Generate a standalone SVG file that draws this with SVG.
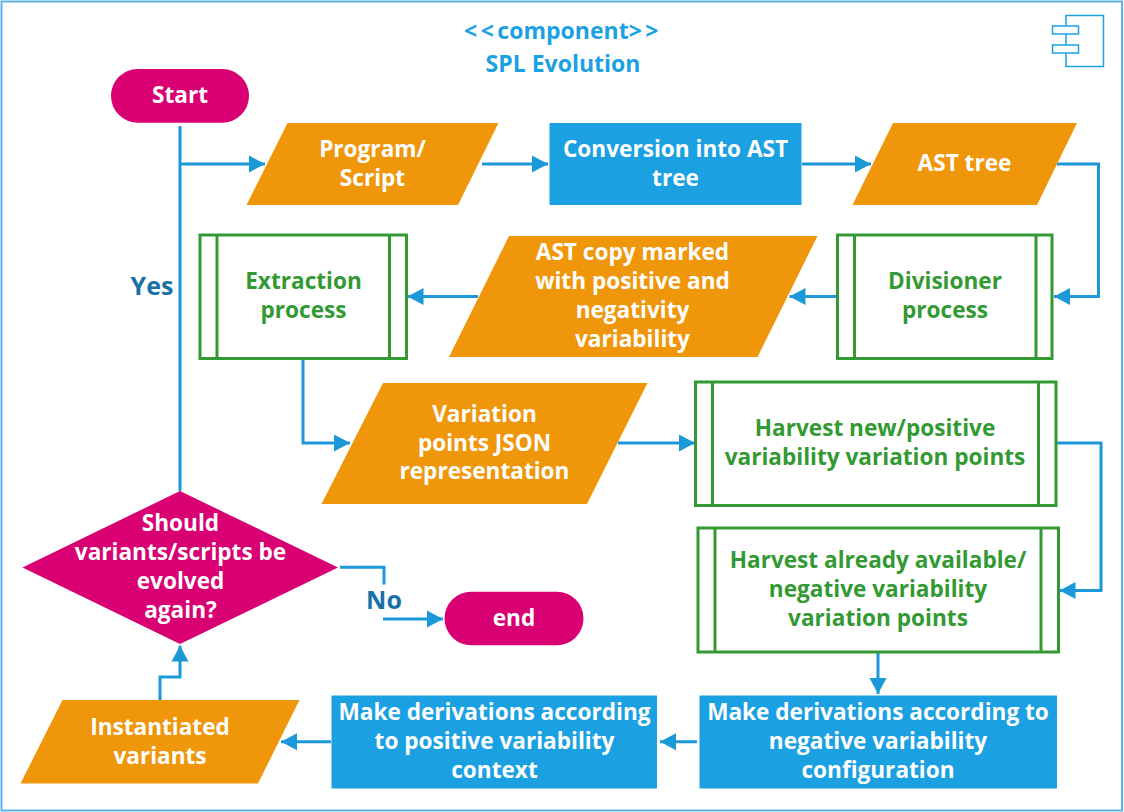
<svg xmlns="http://www.w3.org/2000/svg" width="1124" height="812" viewBox="0 0 1124 812">
<defs>
<marker id="arrow" markerUnits="userSpaceOnUse" markerWidth="16" markerHeight="18" refX="16" refY="9" orient="auto"><path d="M0 0.500L16 9L0 17.500Z" fill="#1b98d8"/></marker>
</defs>
<style>
text{font-family:"Open Sans","Noto Sans","Liberation Sans",sans-serif;font-weight:700;text-anchor:middle;font-size:22.600px}
.w{fill:#fff}.g{fill:#339933}.t{fill:#1ba1e2;font-size:23px}.l{fill:#1671a8;font-size:25px}
.o{fill:#f0960a}.b{fill:#1ba1e2}.m{fill:#d80073}
.p{fill:#fff;stroke:#339933;stroke-width:3}
.c{fill:none;stroke:#1b98d8;stroke-width:3}
.a{marker-end:url(#arrow)}
.i{fill:#fff;stroke:#1ba1e2;stroke-width:1.500}
</style>
<rect id="frame" x="1.500" y="1.500" width="1120.500" height="809" fill="#fff" stroke="#5cb3e6" stroke-width="2"/>
<g id="title"><text class="t" x="563" y="39"><tspan letter-spacing="3.500">&lt;&lt;</tspan>component<tspan letter-spacing="3.500">&gt;&gt;</tspan></text><text class="t" x="563" y="72">SPL Evolution</text></g>
<g id="icon"><rect class="i" x="1066" y="15.500" width="37.500" height="51"/><rect class="i" x="1052.500" y="26" width="26" height="8"/><rect class="i" x="1052.500" y="45" width="26" height="8"/></g>
<g id="connectors">
<path class="c" d="M180 126V491"/>
<path class="c a" d="M180 164H265"/>
<path class="c a" d="M482 164H548"/>
<path class="c a" d="M802 164H871"/>
<path class="c a" d="M1057 164H1098.500V296.500H1054"/>
<path class="c a" d="M837.500 296.500H789.500"/>
<path class="c a" d="M478 296.500H407.500"/>
<path class="c a" d="M303 359V443H350"/>
<path class="c a" d="M618 443H695"/>
<path class="c a" d="M1057 443H1101V590.500H1059.500"/>
<path class="c a" d="M878 653V694"/>
<path class="c a" d="M697 741.700H660"/>
<path class="c a" d="M331 741.700H281"/>
<path class="c a" d="M160 700V677H180V645.500"/>
<path class="c" d="M340 567.300H384V584.500"/>
<path class="c a" d="M383 619H443"/>
</g>
<g id="start"><rect class="m" x="111" y="69" width="138" height="53.700" rx="26.800"/><text class="w" x="180" y="103">Start</text></g>
<g id="program"><path class="o" d="M287.500 123H498.500L458 205H246.500Z"/><text class="w" x="372.500" y="157">Program/</text><text class="w" x="372.500" y="185.500">Script</text></g>
<g id="conversion"><rect class="b" x="549.500" y="123" width="252" height="82"/><text class="w" x="675.500" y="157">Conversion into AST</text><text class="w" x="675.500" y="185.500">tree</text></g>
<g id="ast-tree"><path class="o" d="M893 123H1077L1037 205H852.500Z"/><text class="w" x="964.500" y="171">AST tree</text></g>
<g id="extraction"><rect class="p" x="200" y="235" width="206.500" height="123.500"/><path class="p" d="M217 235V358.500M389.500 235V358.500"/><text class="g" x="303.500" y="289">Extraction</text><text class="g" x="303.500" y="318">process</text></g>
<g id="ast-copy"><path class="o" d="M509 236H817.500L757.500 357H449Z"/><text class="w" x="632.500" y="260">AST copy marked</text><text class="w" x="632.500" y="289">with positive and</text><text class="w" x="632.500" y="318">negativity</text><text class="w" x="632.500" y="347">variability</text></g>
<g id="divisioner"><rect class="p" x="837.500" y="235" width="214.500" height="123.500"/><path class="p" d="M854.500 235V358.500M1036 235V358.500"/><text class="g" x="945" y="289">Divisioner</text><text class="g" x="945" y="318">process</text></g>
<g id="json"><path class="o" d="M383 383H647.500L587 504H321.500Z"/><text class="w" x="484.500" y="422">Variation</text><text class="w" x="484.500" y="451">points JSON</text><text class="w" x="484.500" y="479">representation</text></g>
<g id="harvest-new"><rect class="p" x="695.500" y="382" width="360.500" height="123.500"/><path class="p" d="M712.500 382V505.500M1038.500 382V505.500"/><text class="g" x="875" y="436">Harvest new/positive</text><text class="g" x="875" y="465">variability variation points</text></g>
<g id="harvest-old"><rect class="p" x="698" y="528" width="360.500" height="124"/><path class="p" d="M715 528V652M1041 528V652"/><text class="g" x="878" y="568">Harvest already available/</text><text class="g" x="878" y="597">negative variability</text><text class="g" x="878" y="626">variation points</text></g>
<g id="make-negative"><rect class="b" x="699.500" y="695.500" width="357.500" height="93"/><text class="w" x="878" y="720">Make derivations according to</text><text class="w" x="878" y="749">negative variability</text><text class="w" x="878" y="778">configuration</text></g>
<g id="make-positive"><rect class="b" x="331.500" y="695.500" width="325.500" height="93"/><text class="w" x="494.500" y="720">Make derivations according</text><text class="w" x="494.500" y="749">to positive variability</text><text class="w" x="494.500" y="778">context</text></g>
<g id="instantiated"><path class="o" d="M62.500 700H299.500L258 783.500H20.500Z"/><text class="w" x="160" y="735">Instantiated</text><text class="w" x="160" y="764">variants</text></g>
<g id="decision"><path class="m" d="M180 491L338 567.500L180 644L22.500 567.500Z"/><text class="w" x="180.500" y="531">Should</text><text class="w" x="180.500" y="560">variants/scripts be</text><text class="w" x="180.500" y="589">evolved</text><text class="w" x="180.500" y="618">again?</text></g>
<g id="end"><rect class="m" x="444.500" y="591.700" width="139" height="53.500" rx="26.700"/><text class="w" x="514" y="626">end</text></g>
<g id="labels"><text class="l" x="152" y="295">Yes</text><text class="l" x="384" y="609">No</text></g>
</svg>
